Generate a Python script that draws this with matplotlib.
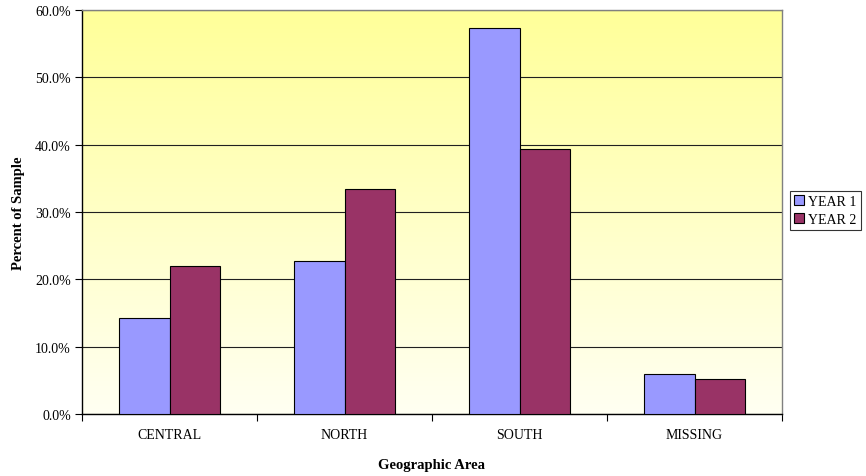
import numpy as np
import matplotlib
matplotlib.use("Agg")
import matplotlib.pyplot as plt
from matplotlib.colors import LinearSegmentedColormap
from matplotlib.ticker import PercentFormatter, FixedLocator

plt.rcParams['font.family'] = ['Liberation Serif', 'DejaVu Serif']

categories = ["CENTRAL", "NORTH", "SOUTH", "MISSING"]
year1 = [14.2, 22.7, 57.3, 5.9]
year2 = [22.0, 33.4, 39.3, 5.2]
series_names = ["YEAR 1", "YEAR 2"]
colors = ["#9999FF", "#993366"]

fig = plt.figure(figsize=(8.66, 4.77), dpi=100)
ax = fig.add_axes([82/866, 1 - 415/477, 700/866, 404/477])

# vertical yellow gradient background
grad = np.linspace(1, 0, 256).reshape(-1, 1)
cmap = LinearSegmentedColormap.from_list("bg", ["#FFFFF2", "#FFFF99"])
ax.imshow(grad, extent=[-0.5, len(categories) - 0.5, 0, 60], aspect='auto',
          cmap=cmap, origin='upper', zorder=0)

x = np.arange(len(categories))
w = 0.29
ax.bar(x - w/2, year1, w, color=colors[0], edgecolor='black', linewidth=0.8,
       label=series_names[0], zorder=3)
ax.bar(x + w/2, year2, w, color=colors[1], edgecolor='black', linewidth=0.8,
       label=series_names[1], zorder=3)

ax.set_xlim(-0.5, len(categories) - 0.5)
ax.set_ylim(0, 60)
ax.set_yticks(np.arange(0, 61, 10))
ax.yaxis.set_major_formatter(PercentFormatter(decimals=1))
ax.yaxis.grid(True, color='#202020', linewidth=0.8, zorder=1)
ax.set_axisbelow(True)

ax.set_xticks(x)
ax.set_xticklabels(categories)
ax.xaxis.set_minor_locator(FixedLocator(np.arange(-0.5, len(categories), 1.0)))
ax.tick_params(axis='x', which='major', length=0, labelsize=10, pad=10)
ax.tick_params(axis='x', which='minor', length=5, width=0.8, direction='out')
ax.tick_params(axis='y', length=5, width=0.8, labelsize=10, pad=3)

for side in ['left', 'bottom']:
    ax.spines[side].set_color('black')
    ax.spines[side].set_linewidth(1.0)
for side in ['top', 'right']:
    ax.spines[side].set_color('#808080')
    ax.spines[side].set_linewidth(1.0)

ax.set_ylabel("Percent of Sample", fontweight='bold', fontsize=10.5, labelpad=7)
ax.set_xlabel("Geographic Area", fontweight='bold', fontsize=10.5, labelpad=12)

leg = fig.legend(loc='upper left', bbox_to_anchor=(790/866, 1 - 192/477),
                 fontsize=10, frameon=True, fancybox=False, edgecolor='black',
                 handlelength=0.7, handleheight=0.7, handletextpad=0.3,
                 borderpad=0.3, labelspacing=0.35, borderaxespad=0)
leg.get_frame().set_linewidth(0.8)

fig.savefig("out.png", dpi=100)
